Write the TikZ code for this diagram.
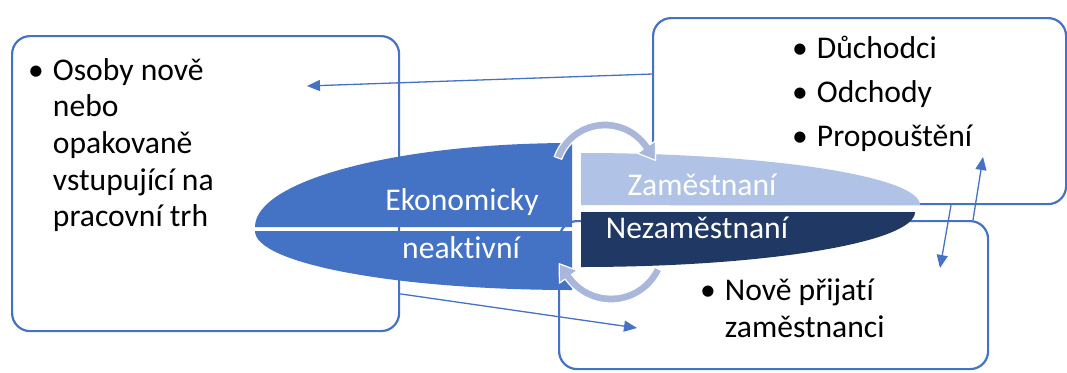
\documentclass[tikz,border=0pt]{standalone}
\usepackage{fontspec}
\setmainfont{Carlito}[Ligatures=NoCommon]
\usetikzlibrary{arrows.meta,calc}
\definecolor{mblue}{HTML}{4472C4}
\definecolor{lblue}{HTML}{B0C3E6}
\definecolor{dblue}{HTML}{203864}
\definecolor{cblue}{HTML}{A9B7DA}
\begin{document}
\begin{tikzpicture}[x=1pt,y=-1pt,
  box/.style={draw=mblue,line width=2.2pt,rounded corners=18pt,inner sep=0pt,anchor=north west},
  btxt/.style={inner sep=0pt,anchor=base west,text=black},
  wtxt/.style={inner sep=0pt,anchor=base,text=white,font=\fontsize{31.6}{36}\selectfont},
  thinarrow/.style={draw=mblue,line width=1.3pt,-{Triangle[width=11pt,length=13pt]}},
  curvearrow/.style={fill=cblue,draw=white,line width=1.2pt,line join=round}]
\useasboundingbox (0,0) rectangle (1067,372);

% boxes
\node[box,minimum width=387pt,minimum height=295pt] (L) at (11,35) {};
\node[box,minimum width=413pt,minimum height=186pt] (TR) at (652,17) {};
\node[box,minimum width=429pt,minimum height=148pt] (B) at (558,220) {};

% box texts
\node[btxt] (Lt) at (28,80) {\fontsize{31.6}{36.7}\selectfont
  \begin{tabular}[t]{@{}l@{\hspace{9pt}}l@{}}
  •&Osoby nově\\ &nebo\\ &opakovaně\\ &vstupující na\\ &pracovní trh
  \end{tabular}};
\node[btxt] (TRt) at (792,58) {\fontsize{31.6}{44.2}\selectfont
  \begin{tabular}[t]{@{}l@{\hspace{9pt}}l@{}}
  •&Důchodci\\ •&Odchody\\ •&Propouštění
  \end{tabular}};
\node[btxt] (Bt) at (700,300) {\fontsize{31.6}{37}\selectfont
  \begin{tabular}[t]{@{}l@{\hspace{9pt}}l@{}}
  •&Nově přijatí\\ &zaměstnanci
  \end{tabular}};

% free ends of connectors
\coordinate (a1) at (307,86);
\coordinate (a2) at (637,328);
\coordinate (a3) at (983,157);
\coordinate (a4) at (940,268);

% thin connectors
\draw[thinarrow] ($(TR.north west)!0.303!(TR.south west)$) -- (a1);
\draw[thinarrow] ($(L.north east)!0.871!(L.south east)$) -- (a2);
\draw[thinarrow] ($(B.north west)+(415,0)$) -- (a3);
\draw[thinarrow] ($(TR.south west)+(299,0)$) -- (a4);

% left shape (Ekonomicky neaktivni)
\fill[mblue] (572,227) -- (572,143) arc[start angle=270,end angle=180,x radius=317,y radius=84] -- cycle;
\fill[mblue] (572,231) -- (255,231) arc[start angle=180,end angle=90,x radius=317,y radius=59] -- cycle;
% right shapes
\fill[lblue] (581,205) -- (581,153) arc[start angle=270,end angle=360,x radius=339,y radius=52] -- cycle;
\fill[dblue] (581,212) -- (915,212) arc[start angle=0,end angle=90,x radius=334,y radius=55] -- cycle;

% shape labels
\node[wtxt] (ek) at (462,210) {Ekonomicky};
\node[wtxt] (nk) at (461,258) {neaktivní};
\node[wtxt] (za) at (702,195) {Zaměstnaní};
\node[wtxt] (ne) at (697,238) {Nezaměstnaní};

% curved arrows
\coordinate (c1) at (605,175);
\draw[curvearrow] ($(c1)+(200:54)$) arc[start angle=200,end angle=326,radius=54]
  -- ($(c1)+(326:61)$) -- ($(c1)+(326:50)+(56:16)$) -- ($(c1)+(326:39)$)
  -- ($(c1)+(326:46)$) arc[start angle=326,end angle=200,radius=46] -- cycle;
\coordinate (c2) at (611,247);
\draw[curvearrow] ($(c2)+(25:56)$) arc[start angle=25,end angle=145,radius=56]
  -- ($(c2)+(145:63)$) -- ($(c2)+(145:52)+(235:16)$) -- ($(c2)+(145:41)$)
  -- ($(c2)+(145:48)$) arc[start angle=145,end angle=25,radius=48] -- cycle;
\end{tikzpicture}
\end{document}
